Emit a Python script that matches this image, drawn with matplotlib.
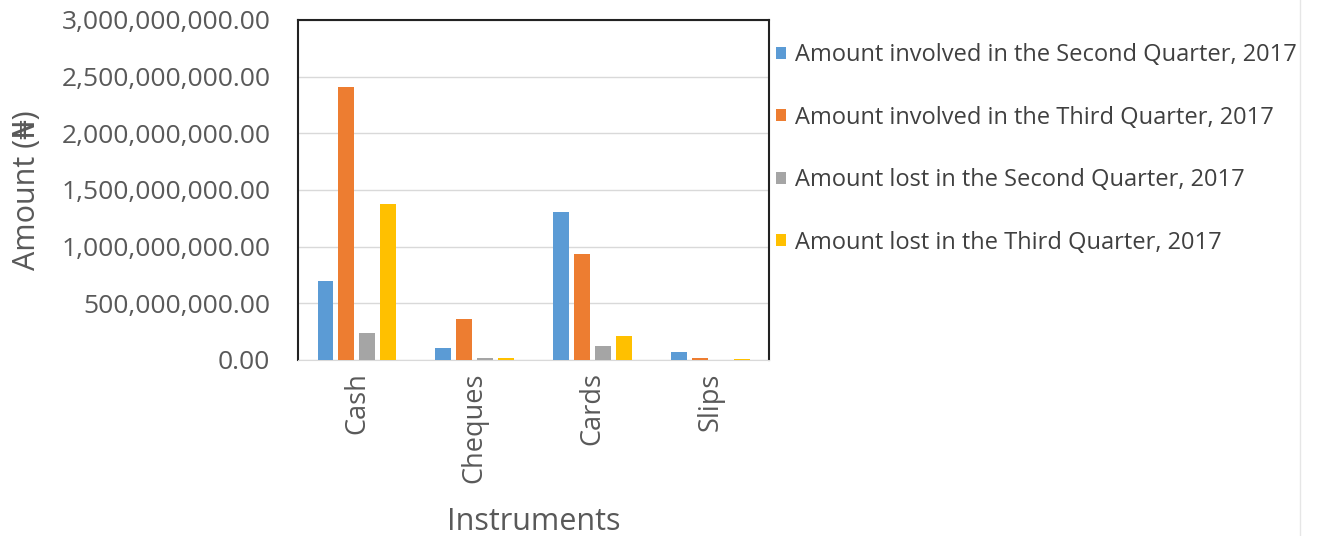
import numpy as np
import matplotlib.pyplot as plt
from matplotlib.ticker import FuncFormatter
from matplotlib.lines import Line2D

instruments = ['Cash', 'Cheques', 'Cards', 'Slips']
involved_q2 = [700000000, 105000000, 1305000000, 70000000]
involved_q3 = [2405000000, 360000000, 935000000, 15000000]
lost_q2 = [235000000, 15000000, 125000000, 3000000]
lost_q3 = [1375000000, 15000000, 210000000, 10000000]

series = [
    ('Amount involved in the Second Quarter, 2017', involved_q2, '#5B9BD5'),
    ('Amount involved in the Third Quarter, 2017', involved_q3, '#ED7D31'),
    ('Amount lost in the Second Quarter, 2017', lost_q2, '#A5A5A5'),
    ('Amount lost in the Third Quarter, 2017', lost_q3, '#FFC000'),
]

plt.rcParams['font.family'] = ['Open Sans', 'DejaVu Sans']
txt = '#595959'

fig = plt.figure(figsize=(13.17, 5.36), dpi=100)
ax = fig.add_axes([0.2263, 0.3284, 0.3577, 0.6343])

x = np.arange(len(instruments))
w = 0.135
step = 0.178
for k, (name, vals, col) in enumerate(series):
    ax.bar(x + (k - 1.5) * step, vals, width=w, color=col, label=name, zorder=3)

ax.set_xlim(-0.5, len(instruments) - 0.5)
ax.set_ylim(0, 3000000000)
ax.set_yticks(np.arange(0, 3000000001, 500000000))
ax.yaxis.set_major_formatter(FuncFormatter(lambda v, p: f'{v:,.2f}'))
ax.grid(axis='y', color='#d9d9d9', linewidth=1, zorder=0)
ax.set_xticks(x)
ax.set_xticklabels(instruments, rotation=90)
ax.tick_params(axis='y', length=0, labelsize=19, colors=txt, pad=20)
ax.tick_params(axis='x', length=0, labelsize=19.5, colors=txt, pad=9)

for s in ['left', 'top', 'right']:
    ax.spines[s].set_color('#222222')
    ax.spines[s].set_linewidth(1.5)
ax.spines['bottom'].set_color('#d9d9d9')

ax.set_xlabel('Instruments', fontsize=22, color=txt, labelpad=17)
ax.set_ylabel('Amount (₦)', fontsize=22, color=txt, labelpad=14)

fig.legend(loc='upper left', bbox_to_anchor=(0.582, 0.937), frameon=False,
           fontsize=17, labelcolor='#404040', handlelength=0.42, handleheight=0.42,
           handletextpad=0.4, labelspacing=1.63, borderaxespad=0)

# thin page edge on the right
fig.add_artist(Line2D([1300 / 1317, 1300 / 1317], [0, 1], color='#e6e6e6', linewidth=1))

fig.savefig('out.png', dpi=100)
